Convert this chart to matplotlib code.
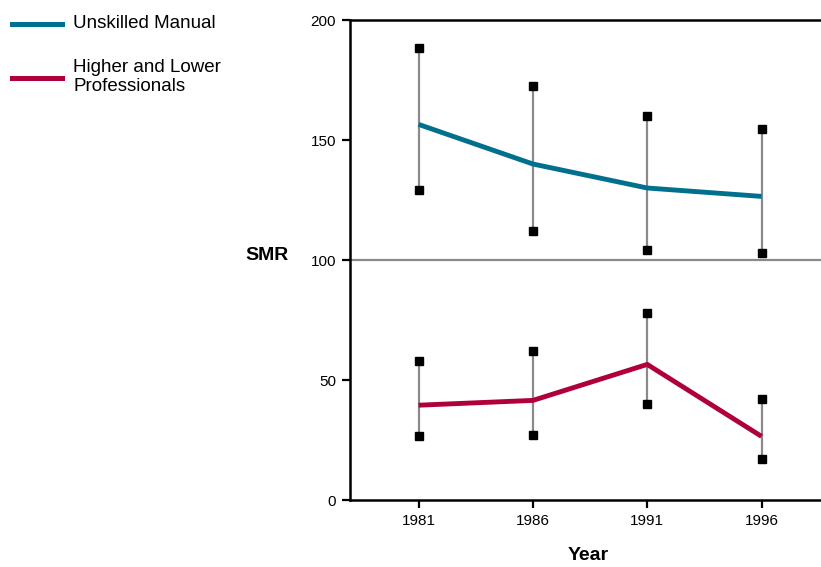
import matplotlib
matplotlib.use("Agg")
import matplotlib.pyplot as plt
from matplotlib.lines import Line2D

plt.rcParams["font.family"] = ["Liberation Sans", "DejaVu Sans"]

# Data
years = [1981, 1986, 1991, 1996]
manual = [156.5, 140, 130, 126.5]
manual_hi = [188.5, 172.5, 160, 154.5]
manual_lo = [129, 112, 104, 103]
prof = [39.5, 41.5, 56.5, 26.5]
prof_hi = [58, 62, 78, 42]
prof_lo = [26.5, 27, 40, 17]

blue = "#00708e"
red = "#b0003a"

W, H = 821, 567
fig = plt.figure(figsize=(W / 100, H / 100), dpi=100)
ax = fig.add_axes([350 / W, 67 / H, 1 - 350 / W, 480 / H])

# reference line at SMR 100
ax.axhline(100, color="#8a8a8a", lw=1.6, zorder=1)

series = [
    (manual, manual_hi, manual_lo, blue, "Unskilled Manual"),
    (prof, prof_hi, prof_lo, red, "Higher and Lower\nProfessionals"),
]
for vals, hi, lo, col, lab in series:
    for x, h, l in zip(years, hi, lo):
        ax.plot([x, x], [l, h], color="#8a8a8a", lw=1.6, zorder=2)
        ax.plot([x, x], [l, h], ls="none", marker="s", ms=5.2, color="black", zorder=4)
    ax.plot(years, vals, color=col, lw=3.5, solid_capstyle="butt", zorder=3)

ax.set_xlim(1978, 1998.6)
ax.set_ylim(0, 200)
ax.set_xticks(years)
ax.set_yticks([0, 50, 100, 150, 200])
ax.tick_params(direction="out", length=6, width=1.6, labelsize=11, pad=4)
for s in ["left", "bottom", "top"]:
    ax.spines[s].set_linewidth(1.8)
ax.spines["right"].set_visible(False)

fig.text(267 / W, 1 - 256 / H, "SMR", fontsize=14, fontweight="bold", ha="center", va="center")
fig.text(588 / W, 1 - 556 / H, "Year", fontsize=14, fontweight="bold", ha="center", va="center")

# legend drawn by hand in figure pixels
for (vals, hi, lo, col, lab), ly in zip(series, [24, 78]):
    fig.add_artist(Line2D([12 / W, 62 / W], [1 - ly / H, 1 - ly / H], color=col, lw=3.6,
                          transform=fig.transFigure))
    fig.text(73 / W, 1 - (ly - 1) / H, lab, fontsize=13.5, ha="left", va="center",
             linespacing=1.1)

fig.savefig("out.png", dpi=100)
